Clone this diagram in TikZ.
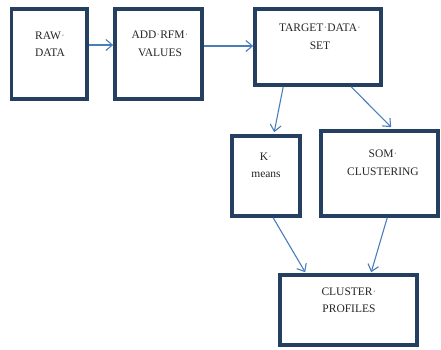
\documentclass[tikz,border=0pt]{standalone}
\usepackage{fontspec}
\setmainfont{Liberation Serif}
\usetikzlibrary{arrows.meta}
\definecolor{boxline}{HTML}{243F60}
\definecolor{arrowblue}{HTML}{4A7EBB}
\newcommand{\pmark}{{\color{black!45}·}}
\begin{document}
\begin{tikzpicture}[x=1pt,y=-1pt,
  stagebox/.style={draw=boxline, line width=3.6pt, fill=white, inner sep=0pt},
  caption/.style={font=\fontsize{11.5}{17.5}\selectfont, align=center, text=black!85},
  flow/.style={draw=arrowblue, line width=1.1pt, -{Straight Barb[length=6.5pt,width=11pt,line width=1.1pt]}}]
  \useasboundingbox (0,0) rectangle (441,349);
  % process boxes
  \node[stagebox, minimum width=75.5pt, minimum height=90pt] (raw) at (49.25,54) {};
  \node[stagebox, minimum width=87pt, minimum height=90pt] (add) at (158.5,54) {};
  \node[stagebox, minimum width=126pt, minimum height=76pt] (target) at (318,47) {};
  \node[stagebox, minimum width=68pt, minimum height=80pt] (kmeans) at (266,176) {};
  \node[stagebox, minimum width=117pt, minimum height=85pt] (som) at (379.5,173.5) {};
  \node[stagebox, minimum width=137pt, minimum height=70pt] (cluster) at (348.5,310) {};
  % box captions
  \node[caption] (rawt) at (50,44) {RAW\pmark\\DATA};
  \node[caption] (addt) at (160,44) {ADD\pmark RFM\pmark\\VALUES};
  \node[caption] (targett) at (320,36.5) {TARGET\pmark DATA\pmark\\SET};
  \node[caption] (kmeanst) at (266,165.5) {K\pmark\\means};
  \node[caption] (somt) at (383,162.5) {SOM\pmark\\CLUSTERING};
  \node[caption] (clustert) at (349,300) {CLUSTER\pmark\\PROFILES};
  % connectors
  \draw[flow] ([yshift=9pt]raw.east) -- ([yshift=9pt]add.west);
  \draw[flow] ([yshift=8pt]add.east) -- ([yshift=1pt]target.west);
  \draw[flow] ([xshift=30pt]target.south west) -- ([xshift=44pt,yshift=2pt]kmeans.north west);
  \draw[flow] ([xshift=98pt]target.south west) -- ([xshift=72pt,yshift=2pt]som.north west);
  \draw[flow] ([xshift=43pt]kmeans.south west) -- ([xshift=27pt,yshift=1pt]cluster.north west);
  \draw[flow] ([xshift=68pt]som.south west) -- ([xshift=93pt,yshift=1pt]cluster.north west);
\end{tikzpicture}
\end{document}
